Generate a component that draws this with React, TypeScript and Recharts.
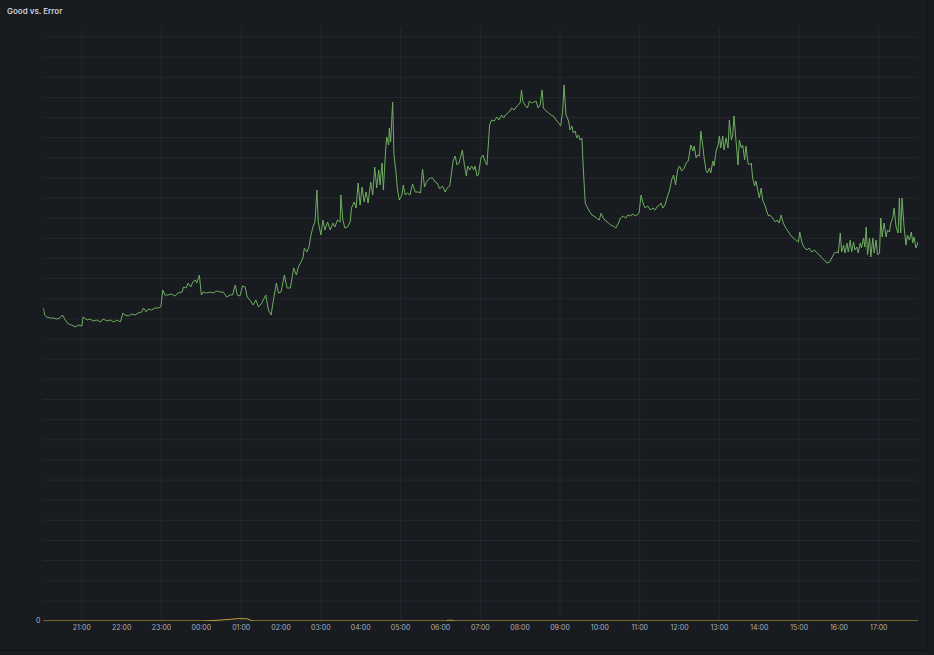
import React from 'react';
import { LineChart, Line, XAxis, YAxis, CartesianGrid } from 'recharts';

// [minutes since 20:00, value]
const goodSeries: [number, number][] = [
  [2, 313], [4, 306], [7, 304], [12, 303], [17, 303], [22, 302], [27, 303], [31, 306], [35, 301], [40, 297],
  [45, 296], [50, 294], [55, 296], [60, 295], [62, 304], [68, 301], [72, 302], [77, 300], [83, 301], [88, 299],
  [92, 302], [98, 300], [103, 301], [108, 299], [113, 301], [118, 299], [122, 308], [125, 306], [130, 305], [135, 307],
  [140, 306], [145, 308], [150, 309], [153, 313], [157, 309], [160, 312], [165, 311], [170, 313], [175, 313], [179, 314],
  [182, 331], [185, 326], [190, 326], [195, 327], [200, 325], [205, 328], [211, 329], [213, 334], [217, 333], [220, 338],
  [224, 334], [227, 339], [231, 341], [233, 338], [237, 346], [240, 326], [243, 329], [248, 328], [253, 329], [258, 328],
  [263, 330], [268, 329], [273, 329], [278, 324], [283, 326], [287, 326], [291, 336], [294, 326], [298, 325], [302, 335],
  [306, 334], [309, 324], [313, 321], [318, 316], [322, 321], [326, 314], [331, 318], [337, 326], [341, 311], [345, 306],
  [348, 319], [353, 338], [356, 328], [360, 329], [365, 346], [369, 333], [374, 333], [379, 353], [383, 346], [386, 354],
  [390, 359], [393, 363], [395, 373], [399, 369], [402, 374], [405, 386], [408, 394], [411, 399], [414, 431], [416, 399],
  [420, 386], [423, 401], [426, 391], [430, 399], [434, 391], [438, 398], [441, 394], [445, 401], [449, 399], [450, 426],
  [453, 401], [456, 393], [460, 394], [464, 399], [466, 413], [470, 419], [473, 413], [476, 438], [479, 416], [482, 434],
  [485, 419], [488, 429], [491, 418], [495, 439], [498, 426], [501, 454], [504, 433], [507, 451], [509, 436], [512, 458],
  [514, 431], [517, 466], [519, 484], [522, 476], [523, 493], [525, 479], [528, 519], [530, 466], [533, 449], [535, 433],
  [538, 421], [542, 426], [544, 436], [547, 426], [550, 428], [554, 426], [558, 437], [562, 429], [567, 429], [570, 428],
  [573, 452], [576, 434], [579, 439], [584, 443], [588, 443], [592, 439], [595, 438], [599, 432], [603, 435], [607, 429],
  [610, 433], [614, 435], [619, 460], [622, 465], [625, 456], [628, 458], [633, 471], [636, 456], [639, 445], [641, 455],
  [644, 451], [647, 455], [650, 451], [652, 455], [655, 445], [657, 446], [661, 463], [664, 466], [667, 460], [670, 456],
  [674, 496], [677, 501], [681, 500], [685, 504], [688, 501], [692, 506], [695, 503], [698, 506], [701, 508], [705, 510],
  [707, 513], [711, 511], [714, 514], [717, 516], [720, 518], [722, 531], [724, 520], [727, 516], [731, 513], [734, 520],
  [737, 518], [741, 519], [744, 520], [747, 513], [750, 516], [753, 531], [755, 513], [759, 510], [763, 508], [766, 506],
  [770, 505], [774, 501], [778, 498], [781, 495], [784, 510], [786, 536], [789, 506], [793, 500], [795, 491], [798, 495],
  [800, 488], [803, 490], [805, 483], [808, 486], [810, 481], [813, 483], [815, 453], [818, 418], [820, 415], [824, 410],
  [828, 406], [831, 405], [835, 403], [839, 401], [842, 408], [845, 403], [849, 400], [853, 398], [856, 396], [860, 395],
  [864, 393], [868, 398], [871, 403], [875, 405], [879, 403], [882, 406], [885, 405], [890, 407], [893, 405], [896, 406],
  [899, 408], [902, 426], [905, 418], [908, 413], [912, 415], [916, 411], [920, 413], [923, 411], [927, 415], [930, 416],
  [932, 418], [935, 413], [938, 416], [942, 425], [945, 431], [948, 441], [951, 446], [954, 436], [957, 451], [960, 455],
  [963, 450], [967, 453], [970, 458], [973, 460], [977, 476], [980, 470], [982, 475], [985, 463], [987, 466], [990, 465],
  [992, 490], [995, 475], [997, 463], [1000, 450], [1002, 448], [1005, 453], [1007, 448], [1010, 460], [1012, 455], [1015, 470],
  [1018, 476], [1020, 485], [1022, 473], [1025, 485], [1027, 471], [1030, 483], [1033, 473], [1035, 501], [1038, 481], [1040, 486],
  [1042, 505], [1045, 480], [1048, 456], [1050, 481], [1053, 473], [1055, 476], [1058, 461], [1060, 475], [1063, 458], [1065, 456],
  [1068, 458], [1070, 443], [1073, 435], [1075, 440], [1078, 430], [1080, 423], [1083, 433], [1085, 421], [1089, 415], [1091, 410],
  [1094, 405], [1096, 406], [1100, 403], [1104, 399], [1107, 401], [1110, 398], [1113, 406], [1116, 398], [1120, 393], [1124, 389],
  [1127, 386], [1131, 383], [1135, 381], [1139, 379], [1141, 389], [1144, 379], [1147, 374], [1152, 371], [1155, 373], [1159, 369],
  [1163, 371], [1167, 368], [1171, 366], [1174, 363], [1178, 361], [1182, 358], [1186, 359], [1189, 363], [1193, 368], [1197, 369],
  [1199, 368], [1202, 388], [1204, 369], [1207, 376], [1209, 368], [1212, 378], [1214, 369], [1217, 381], [1219, 369], [1222, 379],
  [1224, 371], [1227, 374], [1229, 368], [1232, 378], [1234, 373], [1237, 383], [1239, 374], [1241, 394], [1243, 366], [1246, 383],
  [1248, 364], [1251, 383], [1253, 368], [1256, 381], [1258, 366], [1261, 368], [1263, 403], [1265, 384], [1268, 398], [1271, 384],
  [1273, 391], [1276, 389], [1278, 398], [1281, 403], [1283, 413], [1286, 394], [1289, 388], [1291, 423], [1293, 388], [1295, 423],
  [1298, 394], [1301, 376], [1303, 386], [1306, 381], [1309, 389], [1311, 378], [1313, 384], [1316, 373], [1319, 379],
];

const errorSeries: [number, number][] = [
  [2, 0], [238, 0], [255, 0.4], [270, 1], [285, 1.8], [296, 2.4], [305, 2.3], [310, 2.1], [316, 0.3], [320, 0],
  [608, 0], [613, 0.9], [618, 0.6], [622, 0], [1319, 0],
];

const hourTicks = [60, 120, 180, 240, 300, 360, 420, 480, 540, 600, 660, 720, 780, 840, 900, 960, 1020, 1080, 1140, 1200, 1260];
const gridTicks = Array.from({ length: 30 }, (_, i) => i * 20.14);

const goodData = goodSeries.map(([m, v]) => ({ m, good: v }));
const errorData = errorSeries.map(([m, v]) => ({ m, error: v }));

const formatHour = (m: number) => {
  const h = (20 + Math.round(m / 60)) % 24;
  return `${String(h).padStart(2, '0')}:00`;
};

const tickStyle = { fill: 'rgba(204,204,220,0.85)', fontSize: 7, fontFamily: 'Inter, sans-serif' };

export default function App() {
  return (
    <div
      style={{
        position: 'fixed',
        left: 0,
        top: 0,
        width: 934,
        height: 655,
        background: '#181b1f',
        fontFamily: 'Inter, sans-serif',
        overflow: 'hidden',
      }}
    >
      <div
        style={{
          position: 'absolute',
          left: 0,
          top: 0,
          width: 926,
          height: 650,
          borderRight: '1px solid #101115',
          borderBottom: '1px solid #101115',
        }}
      />
      <div
        style={{
          position: 'absolute',
          left: 7,
          top: 5,
          fontSize: 8,
          fontWeight: 600,
          color: '#ccccdc',
          lineHeight: '12px',
        }}
      >
        Good vs. Error
      </div>
      <LineChart width={934} height={655} margin={{ top: 28, right: 16, bottom: 14, left: 0 }}>
        <CartesianGrid stroke="rgba(204,204,220,0.07)" strokeWidth={1} syncWithTicks />
        <XAxis
          dataKey="m"
          type="number"
          domain={[2, 1319]}
          allowDataOverflow
          ticks={hourTicks}
          tickFormatter={formatHour}
          axisLine={false}
          tickLine={false}
          tickSize={0}
          tickMargin={4}
          height={20}
          tick={tickStyle}
        />
        <YAxis
          type="number"
          domain={[0, 593]}
          allowDataOverflow
          ticks={gridTicks}
          tickFormatter={(v: number) => (v === 0 ? '0' : '')}
          axisLine={false}
          tickLine={false}
          tickSize={0}
          tickMargin={3}
          width={43.3}
          tick={tickStyle}
        />
        <Line
          data={goodData}
          dataKey="good"
          type="linear"
          stroke="#6fae62"
          strokeWidth={1}
          dot={false}
          isAnimationActive={false}
        />
        <Line
          data={errorData}
          dataKey="error"
          type="linear"
          stroke="#c4a535"
          strokeWidth={1}
          dot={false}
          isAnimationActive={false}
        />
      </LineChart>
    </div>
  );
}
